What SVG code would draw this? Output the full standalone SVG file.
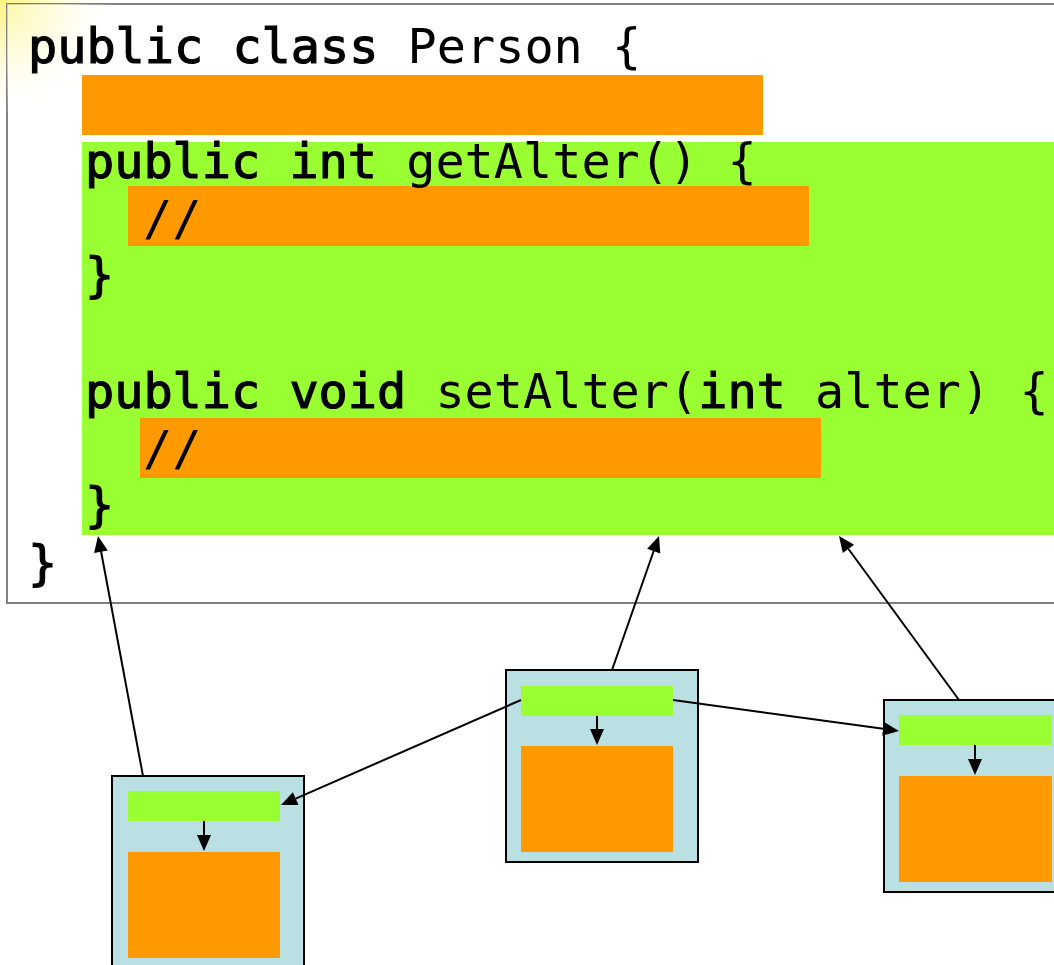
<svg xmlns="http://www.w3.org/2000/svg" width="1054" height="965" viewBox="0 0 1054 965">
<defs>
<radialGradient id="glow" cx="0" cy="0" r="1" gradientUnits="userSpaceOnUse" gradientTransform="translate(0,0) scale(120,120)">
<stop offset="0" stop-color="#FFF480"/>
<stop offset="0.5" stop-color="#FFFBD8"/>
<stop offset="1" stop-color="#FFFFFF" stop-opacity="0"/>
</radialGradient>
</defs>
<style>
.code{font-family:"DejaVu Sans Mono","Liberation Mono",monospace;font-size:48.5px;fill:#000;white-space:pre}
.kw{stroke:#000;stroke-width:1.2px}
.org{fill:#FF9900}
.grn{fill:#99FF33}
.frame{fill:#BBE0E3;stroke:#000;stroke-width:2}
.con{stroke:#000;stroke-width:2;fill:none}
.head{fill:#000;stroke:none}
</style>
<rect width="1054" height="965" fill="#FFFFFF"/>
<rect width="1054" height="965" fill="url(#glow)"/>
<g id="class-box">
<rect x="7" y="4" width="1060" height="599" fill="#FFFFFF" stroke="#808080" stroke-width="2"/>
<rect x="7" y="4" width="1060" height="599" fill="url(#glow)" opacity="0.7"/>
<rect class="org" x="82" y="75" width="681" height="60"/>
<rect class="grn" x="82" y="142" width="972" height="393"/>
<rect class="org" x="128" y="186" width="681" height="60"/>
<rect class="org" x="140" y="418" width="681" height="60"/>
<text class="code" x="28" y="63"><tspan class="kw">public class</tspan> Person {</text>
<text class="code" x="85" y="178"><tspan class="kw">public int</tspan> getAlter() {</text>
<text class="code" x="143" y="235">//</text>
<text class="code kw" x="85" y="292">}</text>
<text class="code" x="85" y="408"><tspan class="kw">public void</tspan> setAlter(<tspan class="kw">int</tspan> alter) {</text>
<text class="code" x="143" y="465">//</text>
<text class="code kw" x="85" y="522">}</text>
<text class="code kw" x="28" y="580">}</text>
</g>
<g id="object-a">
<rect class="frame" x="112" y="776" width="192" height="200"/>
<rect class="grn" x="128" y="791" width="152" height="30"/>
<rect class="org" x="128" y="852" width="152" height="106"/>
</g>
<g id="object-b">
<rect class="frame" x="506" y="670" width="192" height="192"/>
<rect class="grn" x="521" y="686" width="152" height="30"/>
<rect class="org" x="521" y="746" width="152" height="106"/>
</g>
<g id="object-c">
<rect class="frame" x="884" y="700" width="192" height="192"/>
<rect class="grn" x="899" y="715" width="153" height="30"/>
<rect class="org" x="899" y="776" width="153" height="106"/>
</g>
<g id="connectors">
<line class="con" x1="204" y1="821" x2="204" y2="836"/>
<polygon class="head" points="204,851 197,835 211,835"/>
<line class="con" x1="597" y1="716" x2="597" y2="730"/>
<polygon class="head" points="597,745 590,729 604,729"/>
<line class="con" x1="975" y1="745" x2="975" y2="760"/>
<polygon class="head" points="975,775 968,759 982,759"/>
<line class="con" x1="143" y1="776" x2="101" y2="551"/>
<polygon class="head" points="98,536 107.8,550.4 94.1,553"/>
<line class="con" x1="612" y1="670" x2="653.7" y2="551"/>
<polygon class="head" points="659,536 660.3,553.4 647.1,548.8"/>
<line class="con" x1="959" y1="700" x2="848.5" y2="549"/>
<polygon class="head" points="839,536 854.1,544.8 842.8,553"/>
<line class="con" x1="521" y1="700" x2="295.7" y2="798.6"/>
<polygon class="head" points="281,805 292.9,792.2 298.5,805"/>
<line class="con" x1="673" y1="700" x2="883.2" y2="728.8"/>
<polygon class="head" points="899,731 882.2,735.8 884.1,721.9"/>
</g>
</svg>
